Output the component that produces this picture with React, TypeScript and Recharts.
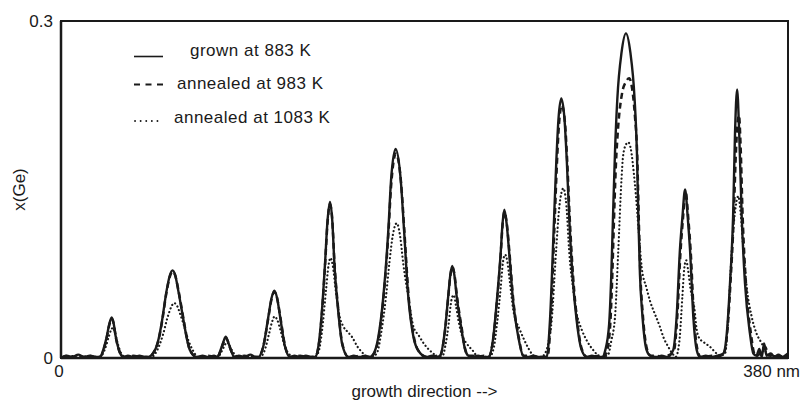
import { LineChart, Line, XAxis, YAxis, ReferenceArea, Legend } from "recharts";

// [position along growth direction (nm), x(Ge)]
const grown883: [number, number][] = [
  [0, 0], [3, 0.002], [6, 0.001], [9, 0.003], [12, 0.001], [15, 0.002], [18, 0.001], [20.4, 0.001],
  [22.2, 0.008], [23.9, 0.019], [25.2, 0.03], [26.5, 0.036], [27.5, 0.031], [28.6, 0.019], [30.5, 0.006], [32.6, 0.001],
  [35, 0.002], [38, 0.001], [41, 0.002], [44, 0.001],
  [45.6, 0.001], [49.1, 0.007], [51, 0.017], [52.6, 0.031], [55.2, 0.06], [56.8, 0.073], [58.3, 0.078], [59.8, 0.073], [61.3, 0.06], [64.3, 0.031], [65.8, 0.017], [67.4, 0.007], [70.9, 0.001],
  [74, 0.002], [77, 0.001], [80, 0.002],
  [81.6, 0.001], [83.6, 0.008], [85, 0.015], [86.1, 0.019], [87.2, 0.015], [88.6, 0.008], [90.6, 0.001],
  [93, 0.002], [96, 0.001], [99, 0.003], [101.5, 0.001],
  [103.1, 0.001], [105.7, 0.01], [108.4, 0.037], [110, 0.053], [111.5, 0.06], [113, 0.053], [114.5, 0.037], [117.1, 0.01], [119.7, 0.001],
  [122, 0.002], [125, 0.001], [128, 0.002], [131, 0.001],
  [132.8, 0.001], [134.5, 0.01], [136.3, 0.04], [138, 0.084], [139.3, 0.122], [140.6, 0.139], [141.8, 0.122], [142.9, 0.084], [145, 0.04], [147, 0.012], [150.2, 0.001],
  [153, 0.002], [156, 0.001], [159, 0.002],
  [161.5, 0.001], [164, 0.006], [165.9, 0.019], [168.5, 0.055], [171.1, 0.114], [172.5, 0.158], [174.9, 0.186], [177.6, 0.158], [179.3, 0.114], [181.5, 0.055], [184.2, 0.019], [187, 0.006], [191, 0.001],
  [194, 0.002], [196.5, 0.001],
  [198.1, 0.002], [200.7, 0.025], [202.4, 0.055], [203.5, 0.074], [204.5, 0.082], [205.6, 0.074], [206.8, 0.055], [209.4, 0.025], [211, 0.009], [212.9, 0.002],
  [215, 0.001], [218, 0.002], [221, 0.001],
  [223.4, 0.001], [226, 0.019], [227.7, 0.049], [229.8, 0.093], [230.8, 0.12], [231.7, 0.132], [232.9, 0.12], [234.3, 0.093], [236.4, 0.049], [239, 0.019], [241.6, 0.002],
  [244, 0.001], [247, 0.002], [250, 0.001],
  [253.9, 0.001], [255.6, 0.034], [257.7, 0.123], [258.9, 0.175], [260, 0.212], [261.5, 0.231], [263.2, 0.212], [264.4, 0.175], [265.7, 0.123], [267.5, 0.07], [269.5, 0.034], [272, 0.008], [274.8, 0.001],
  [277.5, 0.002], [280.5, 0.001], [283, 0.001],
  [284.5, 0.007], [286.5, 0.03], [287.6, 0.072], [288.5, 0.124], [289.6, 0.185], [290.8, 0.231], [293, 0.272], [295.3, 0.289], [297.6, 0.272], [299.8, 0.231], [301, 0.185], [301.8, 0.124], [302.6, 0.075], [303.9, 0.038], [306.1, 0.007], [308, 0.002],
  [311, 0.001], [314, 0.002], [317, 0.001],
  [320, 0.007], [321.8, 0.037], [323.5, 0.096], [324.8, 0.125], [326.2, 0.15], [327.6, 0.125], [328.8, 0.096], [330.5, 0.037], [332.3, 0.007], [334, 0.001],
  [337, 0.002], [340, 0.001], [343, 0.002],
  [346.2, 0.004], [348, 0.022], [349.7, 0.067], [351.3, 0.126], [352.3, 0.2], [353.4, 0.239], [354.5, 0.2], [355.8, 0.126], [357.5, 0.067], [360.1, 0.022], [361.9, 0.004],
  [363.5, 0.002], [365, 0.008], [366.3, 0.001], [367.5, 0.013], [368.8, 0.002], [371, 0.004], [373, 0.001], [375, 0.003], [377, 0.001], [380, 0.004],
];

const annealed983: [number, number][] = [
  [0, 0], [3, 0.002], [6, 0.001], [9, 0.002], [12, 0.001], [15, 0.002], [18, 0.001], [20.4, 0.001],
  [22.2, 0.007], [23.9, 0.018], [25.2, 0.029], [26.5, 0.035], [27.5, 0.031], [28.6, 0.019], [30.5, 0.006], [32.6, 0.001],
  [35, 0.001], [38, 0.002], [41, 0.001], [44, 0.001],
  [45.6, 0.001], [49.1, 0.007], [51, 0.016], [52.6, 0.03], [55.2, 0.059], [56.8, 0.072], [58.3, 0.077], [59.8, 0.073], [61.3, 0.061], [64.3, 0.032], [65.8, 0.018], [67.4, 0.007], [70.9, 0.001],
  [74, 0.001], [77, 0.002], [80, 0.001],
  [81.6, 0.001], [83.6, 0.007], [85, 0.014], [86.1, 0.018], [87.2, 0.015], [88.6, 0.008], [90.6, 0.001],
  [93, 0.001], [96, 0.002], [99, 0.001], [101.5, 0.001],
  [103.1, 0.001], [105.7, 0.01], [108.4, 0.036], [110, 0.052], [111.5, 0.059], [113, 0.053], [114.5, 0.038], [117.1, 0.011], [119.7, 0.001],
  [122, 0.001], [125, 0.002], [128, 0.001], [131, 0.001],
  [132.8, 0.001], [134.5, 0.009], [136.3, 0.038], [138, 0.082], [139.3, 0.12], [140.6, 0.137], [141.8, 0.123], [142.9, 0.086], [145, 0.042], [147, 0.013], [150.2, 0.001],
  [153, 0.001], [156, 0.002], [159, 0.001],
  [161.5, 0.001], [164, 0.005], [165.9, 0.017], [168.5, 0.052], [171.1, 0.11], [172.5, 0.152], [175.1, 0.182], [177.7, 0.157], [179.4, 0.115], [181.6, 0.057], [184.3, 0.02], [187, 0.006], [191, 0.001],
  [194, 0.001], [196.5, 0.002],
  [198.1, 0.002], [200.7, 0.024], [202.4, 0.054], [203.5, 0.073], [204.6, 0.081], [205.7, 0.074], [206.9, 0.056], [209.5, 0.026], [211.1, 0.009], [213, 0.002],
  [215, 0.002], [218, 0.001], [221, 0.002],
  [223.4, 0.001], [226, 0.018], [227.7, 0.047], [229.8, 0.091], [230.8, 0.118], [231.8, 0.13], [233, 0.12], [234.4, 0.094], [236.5, 0.05], [239.1, 0.02], [241.7, 0.002],
  [244, 0.002], [247, 0.001], [250, 0.001],
  [254.3, 0.001], [256, 0.034], [258, 0.12], [259.2, 0.172], [260.3, 0.208], [261.8, 0.225], [263.4, 0.21], [264.6, 0.175], [265.9, 0.125], [267.7, 0.072], [269.7, 0.035], [272.2, 0.008], [275, 0.001],
  [278, 0.001], [281, 0.002], [283, 0.001],
  [285, 0.004], [286.9, 0.025], [288, 0.065], [288.9, 0.115], [290, 0.17], [291.2, 0.205], [293.2, 0.235], [295.3, 0.246], [297, 0.249], [298.5, 0.24], [300, 0.215], [301.2, 0.18], [302, 0.124], [302.8, 0.076], [304.1, 0.039], [306.3, 0.008], [308.2, 0.002],
  [311, 0.002], [314, 0.001], [317, 0.002],
  [320.3, 0.006], [322.1, 0.036], [323.8, 0.094], [325.1, 0.124], [326.5, 0.148], [327.9, 0.124], [329.1, 0.096], [330.8, 0.038], [332.6, 0.008], [334.3, 0.001],
  [337, 0.001], [340, 0.002], [343, 0.001],
  [346.4, 0.004], [348.2, 0.022], [349.9, 0.066], [351.6, 0.124], [352.7, 0.18], [353.8, 0.212], [354.4, 0.216], [355.2, 0.19], [356.3, 0.126], [358, 0.067], [360.6, 0.022], [362.4, 0.004],
  [364, 0.002], [366, 0.006], [368, 0.01], [370, 0.002], [372, 0.003], [375, 0.001], [378, 0.002], [380, 0.001],
];

const annealed1083: [number, number][] = [
  [0, 0], [4, 0.001], [8, 0.002], [12, 0.001], [16, 0.001], [19, 0.001],
  [21, 0.002], [23, 0.008], [24.8, 0.018], [26.2, 0.025], [27.2, 0.027], [28.3, 0.022], [29.8, 0.012], [31.5, 0.004], [33.5, 0.001],
  [36, 0.001], [40, 0.001], [44, 0.001],
  [47.4, 0.001], [50, 0.006], [53.5, 0.022], [55.5, 0.035], [57.5, 0.045], [59.1, 0.049], [60.8, 0.046], [62.5, 0.038], [63.9, 0.031], [66.5, 0.016], [69.2, 0.006], [71.5, 0.001],
  [75, 0.001], [79, 0.001],
  [82, 0.001], [84, 0.006], [85.5, 0.011], [86.6, 0.014], [87.8, 0.012], [89.3, 0.007], [91.5, 0.002], [93.5, 0.001],
  [97, 0.001], [101, 0.001],
  [104, 0.001], [106.5, 0.007], [108.8, 0.022], [110.3, 0.032], [111.7, 0.037], [113, 0.034], [114.7, 0.025], [117, 0.01], [119.5, 0.003], [121.5, 0.001],
  [125, 0.001], [129, 0.001],
  [132.5, 0.001], [134.5, 0.005], [136.5, 0.025], [138.5, 0.06], [139.8, 0.082], [140.8, 0.089], [142, 0.083], [143.5, 0.062], [145.5, 0.038], [147.6, 0.028], [150, 0.023], [152, 0.019], [155, 0.01], [158, 0.004], [160, 0.001],
  [162.5, 0.001],
  [165, 0.004], [167.6, 0.025], [169.9, 0.055], [171.6, 0.084], [173.5, 0.11], [175.5, 0.12], [177.3, 0.108], [178.9, 0.084], [181.5, 0.055], [184.2, 0.028], [187, 0.02], [190, 0.012], [194.6, 0.004], [197, 0.001],
  [199.5, 0.002], [201, 0.012], [202.6, 0.03], [203.6, 0.046], [204.4, 0.054], [205.3, 0.056], [206.5, 0.046], [207.8, 0.033], [209.6, 0.02], [212, 0.013], [215.5, 0.006], [218, 0.001],
  [221, 0.001],
  [224, 0.001], [226.3, 0.01], [228, 0.032], [229.8, 0.062], [231, 0.085], [232.1, 0.092], [233.3, 0.086], [234.6, 0.068], [236.5, 0.042], [239.9, 0.025], [243, 0.013], [246, 0.004], [248, 0.001],
  [251, 0.001],
  [253, 0.004], [254.8, 0.014], [256.5, 0.034], [258.7, 0.093], [260.5, 0.135], [262.6, 0.151], [264.2, 0.135], [265.7, 0.093], [267.5, 0.064], [269.5, 0.04], [272, 0.026], [275, 0.015], [278.2, 0.007], [281, 0.002], [283, 0.001],
  [286, 0.003], [287.6, 0.015], [289.6, 0.037], [291.3, 0.096], [293, 0.16], [293.8, 0.18], [295.3, 0.19], [296.5, 0.192], [297.6, 0.188], [299.8, 0.158], [302.1, 0.11], [303.5, 0.081], [306.1, 0.062], [308, 0.05], [310, 0.041], [313, 0.028], [315, 0.018], [317.4, 0.01], [320, 0.003], [321.3, 0.001],
  [322.2, 0.004], [323.5, 0.02], [324.8, 0.055], [325.8, 0.08], [326.8, 0.087], [327.8, 0.078], [329, 0.062], [331, 0.045], [332.3, 0.025], [333.5, 0.018], [336, 0.014], [339.2, 0.01], [342.7, 0.004], [344.5, 0.002],
  [347.1, 0.004], [348.8, 0.037], [350.6, 0.096], [352.3, 0.13], [354, 0.144], [355.3, 0.128], [356.7, 0.096], [358.5, 0.062], [361, 0.037], [363.5, 0.022], [366.3, 0.013], [368.9, 0.004], [371, 0.001], [374, 0.002], [377, 0.001], [380, 0.001],
];

const xTicks = [0, 380];
const yTicks = [0, 0.3];
const legendLabels = ["grown at 883 K", "annealed at 983 K", "annealed at 1083 K"];

const INK = "#1a1a1a";
const FONT = "'Liberation Sans', Arial, Helvetica, sans-serif";

const toRows = (pts: [number, number][]) => pts.map(([x, y]) => ({ x, y }));

function XTick({ x, y, payload }: any) {
  const last = payload.value === 380;
  return (
    <text
      x={last ? x + 12 : x - 2}
      y={y + 11}
      textAnchor={last ? "end" : "middle"}
      fill={INK}
      fontSize={17}
      fontFamily={FONT}
    >
      {last ? `${payload.value} nm` : payload.value}
    </text>
  );
}

function LegendBox() {
  const textStyle = { fontSize: 17, fontFamily: FONT, letterSpacing: 0.5, fill: INK };
  return (
    <svg width={340} height={135}>
      <line x1={134} y1={56.5} x2={163} y2={56.5} stroke={INK} strokeWidth={1.6} />
      <text x={190} y={55.5} {...textStyle}>{legendLabels[0]}</text>
      <line x1={134} y1={84.5} x2={163} y2={84.5} stroke={INK} strokeWidth={1.8} strokeDasharray="6 5.5" />
      <text x={177} y={89} {...textStyle}>{legendLabels[1]}</text>
      <line x1={135} y1={121} x2={158} y2={121} stroke={INK} strokeWidth={1.8} strokeDasharray="0.1 5.5" strokeLinecap="round" />
      <text x={174} y={123} {...textStyle}>{legendLabels[2]}</text>
    </svg>
  );
}

export default function App() {
  return (
    <div style={{ position: "absolute", left: 0, top: 0, width: 802, height: 403, background: "#fff" }}>
      <LineChart
        width={802}
        height={403}
        margin={{ top: 21, right: 14, bottom: 0, left: 0 }}
        style={{ fontFamily: FONT }}
      >
        <XAxis
          dataKey="x"
          type="number"
          domain={[0, 380]}
          ticks={xTicks}
          height={45}
          axisLine={{ stroke: INK, strokeWidth: 2.5 }}
          tickLine={false}
          tick={<XTick />}
          allowDataOverflow
          label={{ value: "growth direction -->", position: "insideBottom", offset: 6, fill: INK, fontSize: 17 }}
        />
        <YAxis
          type="number"
          domain={[0, 0.3]}
          ticks={yTicks}
          width={61}
          axisLine={{ stroke: INK, strokeWidth: 2.5 }}
          tickLine={false}
          tick={{ fill: INK, fontSize: 17 }}
          allowDataOverflow
          label={{
            value: "x(Ge)",
            angle: -90,
            position: "insideLeft",
            offset: 19,
            fill: INK,
            fontSize: 17,
            style: { textAnchor: "middle" },
          }}
        />
        <ReferenceArea x1={0} x2={380} y1={0} y2={0.3} fill="none" stroke={INK} strokeWidth={2} ifOverflow="visible" />
        <Line
          data={toRows(annealed1083)}
          dataKey="y"
          type="monotone"
          stroke={INK}
          strokeWidth={2.2}
          strokeDasharray="0.1 3.8"
          strokeLinecap="round"
          dot={false}
          isAnimationActive={false}
        />
        <Line
          data={toRows(annealed983)}
          dataKey="y"
          type="monotone"
          stroke={INK}
          strokeWidth={2.5}
          strokeDasharray="6 4"
          dot={false}
          isAnimationActive={false}
        />
        <Line
          data={toRows(grown883)}
          dataKey="y"
          type="monotone"
          stroke={INK}
          strokeWidth={2.4}
          dot={false}
          isAnimationActive={false}
        />
        <Legend
          layout="vertical"
          align="center"
          verticalAlign="middle"
          wrapperStyle={{ left: 0, top: 0, width: 340, height: 135 }}
          content={() => <LegendBox />}
        />
      </LineChart>
    </div>
  );
}
